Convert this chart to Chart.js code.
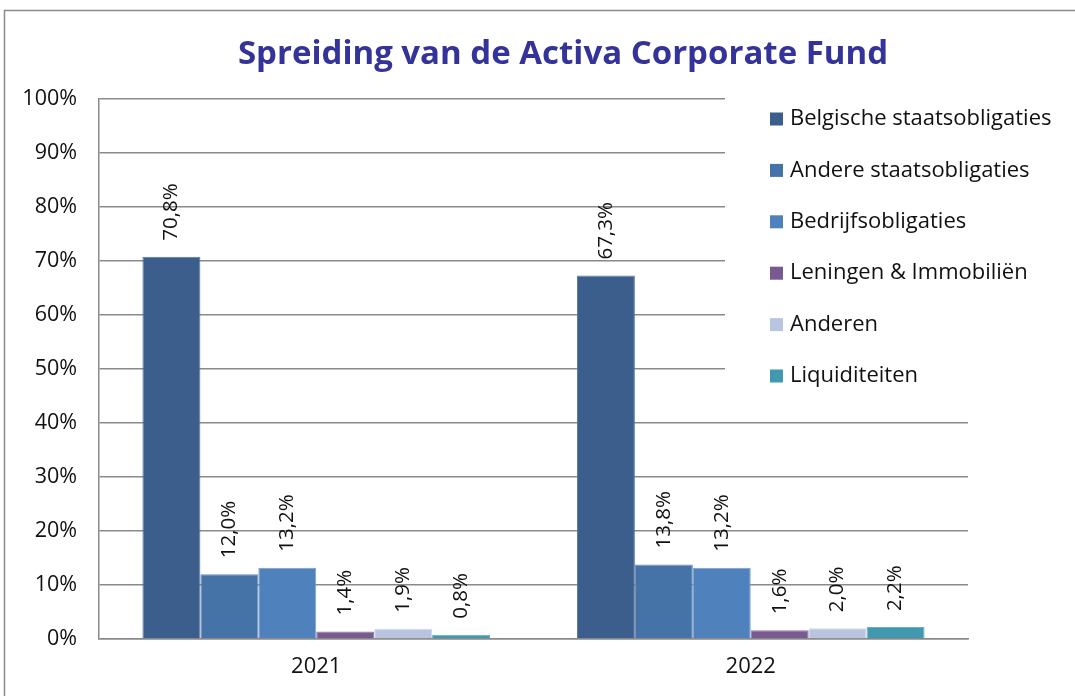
<!DOCTYPE html>
<html>
<head>
<meta charset="utf-8">
<script src="https://cdn.jsdelivr.net/npm/chart.js@4/dist/chart.umd.min.js"></script>
<style>
  html, body { margin: 0; padding: 0; background: #fff; }
  #wrap { position: relative; width: 1075px; height: 696px; overflow: hidden; }
  canvas { display: block; }
</style>
</head>
<body>
<div id="wrap"><canvas id="chart" width="1075" height="696"></canvas></div>
<script>
const categories = ["2021", "2022"];
const seriesNames = [
  "Belgische staatsobligaties",
  "Andere staatsobligaties",
  "Bedrijfsobligaties",
  "Leningen & Immobiliën",
  "Anderen",
  "Liquiditeiten",
];
const seriesValues = [
  [70.8, 67.3],
  [12.0, 13.8],
  [13.2, 13.2],
  [1.4, 1.6],
  [1.9, 2.0],
  [0.8, 2.2],
];
const seriesColors = ["#3b5e8c", "#4572a7", "#4f81bd", "#775a90", "#b9c5e0", "#4198af"];
const seriesEdges = ["#5a789e", "#6a8cb8", "#7aa0cc", "#8f78a5", "#d0d9eb", "#67adbf"];
const chartTitle = "Spreiding van de Activa Corporate Fund";

const FONT = "'Open Sans', 'Noto Sans', sans-serif";

function formatPct(v) {
  return v.toFixed(1).replace(".", ",") + "%";
}

const framePlugin = {
  id: "frame",
  beforeDraw(chart) {
    const ctx = chart.ctx;
    ctx.save();
    ctx.fillStyle = "#fff";
    ctx.fillRect(0, 0, chart.width, chart.height);
    ctx.strokeStyle = "#8a8a8a";
    ctx.lineWidth = 1.5;
    ctx.strokeRect(4.5, 10.5, 1200, 800);
    ctx.restore();
  },
  afterDraw(chart) {
    const ctx = chart.ctx;
    ctx.save();
    ctx.font = "bold 33px " + FONT;
    ctx.fillStyle = "#333399";
    ctx.textAlign = "center";
    ctx.textBaseline = "middle";
    ctx.fillText(chartTitle, 563, 55);
    ctx.restore();
  },
};

const legendPlugin = {
  id: "overlayLegend",
  beforeDatasetsDraw(chart) {
    const ctx = chart.ctx;
    ctx.save();
    // legend box hides the gridlines behind it
    ctx.fillStyle = "#fff";
    ctx.fillRect(725, 96, 340, 305);
    ctx.font = "22px " + FONT;
    ctx.textBaseline = "middle";
    ctx.textAlign = "left";
    chart.data.datasets.forEach((ds, i) => {
      const y = 119 + i * 51.4;
      ctx.fillStyle = ds.backgroundColor;
      ctx.fillRect(770, y - 6.5, 13, 13);
      ctx.fillStyle = "#111";
      ctx.fillText(ds.label, 790, y);
    });
    ctx.restore();
  },
};

const valueLabelPlugin = {
  id: "valueLabels",
  afterDatasetsDraw(chart) {
    const ctx = chart.ctx;
    ctx.save();
    ctx.font = "20.5px " + FONT;
    ctx.fillStyle = "#111";
    ctx.textAlign = "left";
    ctx.textBaseline = "middle";
    chart.data.datasets.forEach((ds, di) => {
      const meta = chart.getDatasetMeta(di);
      meta.data.forEach((el, i) => {
        ctx.save();
        ctx.translate(el.x, el.y - 16);
        ctx.rotate(-Math.PI / 2);
        ctx.fillText(formatPct(ds.data[i]), 0, 0);
        ctx.restore();
      });
    });
    ctx.restore();
  },
};

new Chart(document.getElementById("chart"), {
  type: "bar",
  data: {
    labels: categories,
    datasets: seriesNames.map((name, i) => ({
      label: name,
      data: seriesValues[i],
      backgroundColor: seriesColors[i],
      borderColor: seriesEdges[i],
      borderWidth: 1,
      borderSkipped: "bottom",
      categoryPercentage: 0.8,
      barPercentage: 1,
    })),
  },
  options: {
    responsive: false,
    animation: false,
    layout: { padding: { top: 99, right: 107, bottom: 0, left: 0 } },
    plugins: {
      legend: { display: false },
      title: { display: false },
      tooltip: { enabled: false },
    },
    scales: {
      x: {
        grid: { display: false, drawTicks: false },
        border: { display: true, color: "#8a8a8a", width: 1.5 },
        ticks: { color: "#111", font: { family: FONT, size: 22 }, padding: 15 },
        afterFit(scale) { scale.height = 57; },
      },
      y: {
        min: 0,
        max: 100,
        ticks: {
          stepSize: 10,
          color: "#111",
          font: { family: FONT, size: 21.5 },
          padding: 22,
          callback: v => v + "%",
        },
        grid: { color: "#8a8a8a", lineWidth: 1.5, drawTicks: false },
        border: { display: true, color: "#8a8a8a", width: 1.5 },
        afterFit(scale) { scale.width = 99; },
      },
    },
  },
  plugins: [framePlugin, legendPlugin, valueLabelPlugin],
});
</script>
</body>
</html>
